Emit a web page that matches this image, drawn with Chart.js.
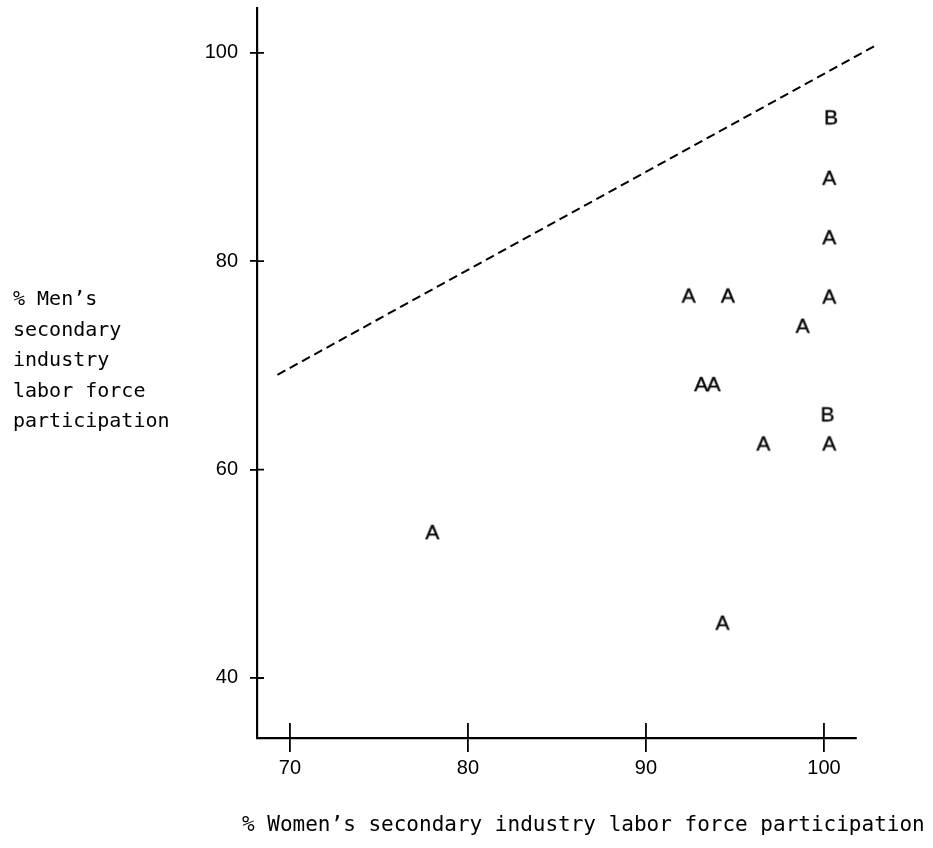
<!DOCTYPE html>
<html>
<head>
<meta charset="utf-8">
<script src="https://cdn.jsdelivr.net/npm/chart.js@4/dist/chart.umd.min.js"></script>
<style>
  html, body { margin: 0; padding: 0; background: #fff; }
  #wrap { width: 933px; height: 848px; }
</style>
</head>
<body>
<div id="wrap"><canvas id="plot"></canvas></div>
<script>
// points marked "A"
const groupAX = [100.3, 100.3, 92.4, 94.6, 100.3, 98.8, 93.1, 93.8, 96.6, 100.3, 78.0, 94.3];
const groupAY = [88.1, 82.4, 76.8, 76.8, 76.7, 73.9, 68.3, 68.3, 62.6, 62.6, 54.1, 45.4];
// points marked "B"
const groupBX = [100.4, 100.2];
const groupBY = [93.9, 65.4];
// dashed reference line
const refX = [69.3, 103.0];
const refY = [69.1, 100.8];

const xTicks = [70, 80, 90, 100];
const yTicks = [40, 60, 80, 100];

const xTitle = "% Women\u2019s secondary industry labor force participation";
const yTitle = ["% Men\u2019s", "secondary", "industry", "labor force", "participation"];

const sans = '"Liberation Sans", Arial, Helvetica, sans-serif';
const mono = '"DejaVu Sans Mono", "Liberation Mono", monospace';

// letter used as point marker
function letterImage(ch) {
  const c = document.createElement("canvas");
  c.width = 24; c.height = 24;
  const g = c.getContext("2d");
  g.font = "21px " + sans;
  g.textAlign = "center";
  g.textBaseline = "alphabetic";
  g.fillStyle = "#000";
  g.strokeStyle = "#000";
  g.lineWidth = 0.35;
  g.fillText(ch, 12, 19.5);
  g.strokeText(ch, 12, 19.5);
  return c;
}

function toPoints(xs, ys) {
  return xs.map((x, i) => ({ x: x, y: ys[i] }));
}

// inner half of the crossing ticks + the plain text axis titles
const extras = {
  id: "extras",
  afterDraw(chart) {
    const ctx = chart.ctx;
    const x = chart.scales.x, y = chart.scales.y;
    ctx.save();
    ctx.strokeStyle = "#000";
    ctx.lineWidth = 1.8;
    ctx.beginPath();
    xTicks.forEach(v => {
      const px = x.getPixelForValue(v);
      ctx.moveTo(px, x.top);
      ctx.lineTo(px, x.top - 15);
    });
    yTicks.forEach(v => {
      const py = y.getPixelForValue(v);
      ctx.moveTo(y.right, py);
      ctx.lineTo(y.right + 7, py);
    });
    ctx.stroke();

    ctx.fillStyle = "#000";
    ctx.textBaseline = "middle";
    ctx.textAlign = "left";
    ctx.font = "20px " + mono;
    yTitle.forEach((t, i) => ctx.fillText(t, 13, 300 + i * 30.5));
    ctx.font = "21px " + mono;
    ctx.fillText(xTitle, 242, 826);
    ctx.restore();
  }
};

const ctx = document.getElementById("plot").getContext("2d");
new Chart(ctx, {
  type: "scatter",
  data: {
    datasets: [
      {
        label: "A",
        data: toPoints(groupAX, groupAY),
        pointStyle: letterImage("A"),
        pointRadius: 12,
        pointHoverRadius: 12
      },
      {
        label: "B",
        data: toPoints(groupBX, groupBY),
        pointStyle: letterImage("B"),
        pointRadius: 12,
        pointHoverRadius: 12
      },
      {
        type: "line",
        label: "reference",
        data: toPoints(refX, refY),
        borderColor: "#000",
        borderWidth: 2,
        borderDash: [9, 5],
        pointRadius: 0,
        fill: false,
        clip: false
      }
    ]
  },
  options: {
    responsive: true,
    maintainAspectRatio: false,
    animation: false,
    layout: { autoPadding: false, padding: { top: 8, right: 77, bottom: 0, left: 0 } },
    plugins: {
      legend: { display: false },
      tooltip: { enabled: false }
    },
    scales: {
      x: {
        type: "linear",
        min: 68.15,
        max: 101.8,
        afterBuildTicks: s => { s.ticks = xTicks.map(v => ({ value: v })); },
        afterFit: s => { s.height = 110; s.paddingLeft = 0; s.paddingRight = 0; },
        grid: { drawOnChartArea: false, drawTicks: true, tickLength: 14, color: "#000", lineWidth: 1.8 },
        border: { color: "#000", width: 2.2 },
        ticks: { color: "#000", font: { family: sans, size: 20 }, padding: 4, maxRotation: 0 }
      },
      y: {
        type: "linear",
        min: 34.24,
        max: 104.3,
        afterBuildTicks: s => { s.ticks = yTicks.map(v => ({ value: v })); },
        afterFit: s => { s.width = 257; s.paddingTop = 0; s.paddingBottom = 0; },
        grid: { drawOnChartArea: false, drawTicks: true, tickLength: 7, color: "#000", lineWidth: 1.8 },
        border: { color: "#000", width: 2.2 },
        ticks: { color: "#000", font: { family: sans, size: 20 }, padding: 12 }
      }
    }
  },
  plugins: [extras]
});
</script>
</body>
</html>
